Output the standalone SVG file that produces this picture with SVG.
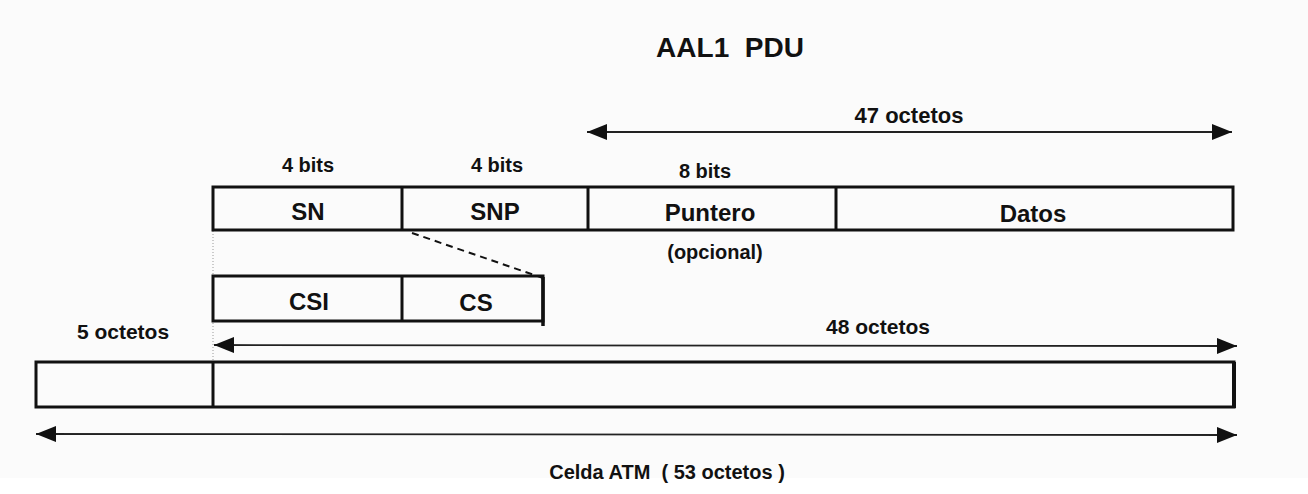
<svg xmlns="http://www.w3.org/2000/svg" width="1308" height="494" viewBox="0 0 1308 494">
<defs>
<marker id="ah2" viewBox="0 0 20 16" refX="20" refY="8" markerWidth="20" markerHeight="16" markerUnits="userSpaceOnUse" orient="auto-start-reverse">
<path d="M0,0 L20,8 L0,16 Z" fill="#111"/>
</marker>
</defs>
<style>
.t{font-family:"Liberation Sans",Arial,sans-serif;font-weight:bold;fill:#111;text-anchor:middle;white-space:pre}
.lbl{font-size:20px}
.fld{font-size:24px}
.box{fill:none;stroke:#111;stroke-width:3}
.dv{stroke:#111;stroke-width:3}
.arr{stroke:#222;stroke-width:1.8;fill:none}
.dot{stroke:#999;stroke-width:1;stroke-dasharray:1 2}
</style>
<rect x="0" y="0" width="1308" height="494" fill="#fbfbfb"/>
<rect x="0" y="478" width="1308" height="16" fill="#ffffff"/>

<text class="t" x="730" y="57" font-size="28" xml:space="preserve">AAL1  PDU</text>

<g id="connectors">
<line class="arr" x1="587" y1="132" x2="1232" y2="132" marker-start="url(#ah2)" marker-end="url(#ah2)"/>
<line class="arr" x1="214" y1="345" x2="1237" y2="346" marker-start="url(#ah2)" marker-end="url(#ah2)"/>
<line class="arr" x1="36" y1="434" x2="1237" y2="435" marker-start="url(#ah2)" marker-end="url(#ah2)"/>
<line x1="412" y1="233" x2="543" y2="278" stroke="#111" stroke-width="2" stroke-dasharray="7 5"/>
<line class="dot" x1="213" y1="231" x2="213" y2="275"/>
<line class="dot" x1="213" y1="323" x2="213" y2="360"/>
</g>

<g id="labels">
<text class="t" x="909" y="123" font-size="22">47 octetos</text>
<text class="t lbl" x="308" y="172">4 bits</text>
<text class="t lbl" x="497" y="172">4 bits</text>
<text class="t lbl" x="705" y="178">8 bits</text>
<text class="t lbl" x="715" y="259">(opcional)</text>
<text class="t" x="878" y="334" font-size="21">48 octetos</text>
<text class="t" x="123" y="339" font-size="21">5 octetos</text>
<text class="t" x="667" y="479" font-size="20" xml:space="preserve">Celda ATM  ( 53 octetos )</text>
</g>

<g id="aal1-pdu">
<rect class="box" x="213" y="187" width="1020" height="43"/>
<line class="dv" x1="402" y1="187" x2="402" y2="230"/>
<line class="dv" x1="588" y1="187" x2="588" y2="230"/>
<line class="dv" x1="836" y1="187" x2="836" y2="230"/>
<text class="t fld" x="308" y="220">SN</text>
<text class="t fld" x="495" y="220">SNP</text>
<text class="t fld" x="710" y="221">Puntero</text>
<text class="t fld" x="1033" y="222">Datos</text>
</g>

<g id="csi-cs">
<rect class="box" x="213" y="276" width="330" height="45"/>
<line class="dv" x1="402" y1="276" x2="402" y2="321"/>
<line x1="543" y1="277" x2="543" y2="326" stroke="#111" stroke-width="3.5"/>
<text class="t fld" x="309" y="310">CSI</text>
<text class="t fld" x="476" y="311">CS</text>
</g>

<g id="atm-cell">
<rect class="box" x="36" y="362" width="1198" height="45"/>
<line class="dv" x1="213" y1="362" x2="213" y2="407"/>
<line x1="1234" y1="362" x2="1234" y2="408" stroke="#111" stroke-width="4"/>
</g>
</svg>
